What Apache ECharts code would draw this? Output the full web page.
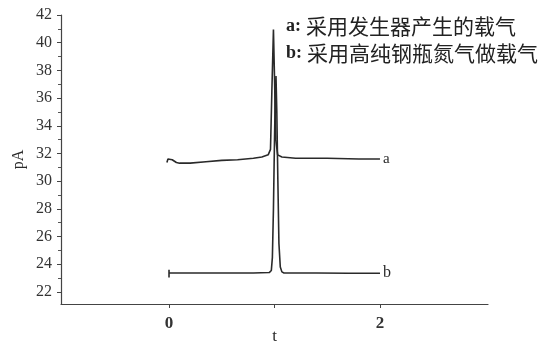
<!DOCTYPE html>
<html>
<head>
<meta charset="utf-8">
<script src="https://cdn.jsdelivr.net/npm/echarts@6/dist/echarts.min.js"></script>
<style>html,body{margin:0;padding:0;background:#fff}#c{width:549px;height:345px}</style>
</head>
<body>
<div id="c"></div>
<script>
// Trace a: carrier gas from generator
const tA = [-0.02, -0.01, 0.003, 0.03, 0.07, 0.1, 0.2, 0.35, 0.5, 0.65, 0.8, 0.88, 0.94, 0.962, 0.975, 0.99, 1.0, 1.012, 1.03, 1.07, 1.2, 1.5, 1.8, 2.0];
const vA = [31.35, 31.6, 31.62, 31.55, 31.35, 31.3, 31.3, 31.4, 31.5, 31.55, 31.65, 31.75, 31.9, 32.3, 36.5, 40.95, 37.5, 33.0, 31.9, 31.75, 31.65, 31.65, 31.6, 31.6];
// Trace b: high-purity cylinder nitrogen carrier gas
const tB = [0, 0, 0, 0.2, 0.5, 0.8, 0.95, 0.97, 0.98, 0.99, 1.0, 1.008, 1.014, 1.022, 1.032, 1.042, 1.055, 1.07, 1.09, 1.4, 1.7, 2.0];
const vB = [23.05, 23.6, 23.37, 23.37, 23.37, 23.37, 23.4, 23.55, 24.5, 28.0, 33.0, 36.5, 37.6, 35.0, 30.0, 25.5, 23.8, 23.45, 23.37, 23.37, 23.35, 23.35];
const yMajor = [22, 24, 26, 28, 30, 32, 34, 36, 38, 40, 42];
const yMinor = [23, 25, 27, 29, 31, 33, 35, 37, 39, 41];
const xTicks = [0, 1, 2];
const xLabels = [0, 2];
const legendKeys = ['a:', 'b:'];
const legendTexts = ['采用发生器产生的载气', '采用高纯钢瓶氮气做载气'];

const serif = 'Liberation Serif';
const ink = '#2a2a2a';
const chart = echarts.init(document.getElementById('c'), null, {renderer: 'canvas'});
const pairs = (xs, ys) => xs.map((x, i) => [x, ys[i]]);
chart.setOption({
  animation: false,
  backgroundColor: '#fff',
  title: {
    text: legendKeys.map((k, i) => '{k|' + k + '} {c|' + legendTexts[i] + '}').join('\n'),
    left: 281, top: 8,
    textStyle: {
      lineHeight: 27,
      fontWeight: 'normal',
      rich: {
        k: {fontFamily: serif, fontSize: 18, fontWeight: 'bold', color: '#222', lineHeight: 27},
        c: {fontFamily: 'Noto Sans CJK SC', fontSize: 21, fontWeight: 'normal', color: '#222', lineHeight: 27}
      }
    }
  },
  grid: {left: 61, right: 61, top: 15, bottom: 41, containLabel: false, outerBoundsMode: 'none'},
  xAxis: {
    type: 'value', min: -1.024, max: 3.024,
    name: 't', nameLocation: 'middle', nameGap: 24, nameMoveOverlap: false,
    nameTextStyle: {fontFamily: serif, fontSize: 17, color: ink},
    axisLine: {show: true, onZero: false, lineStyle: {color: '#444', width: 1.2}},
    axisTick: {show: true, customValues: xTicks, length: 4, inside: false, lineStyle: {color: '#444'}},
    axisLabel: {customValues: xLabels, fontFamily: serif, fontSize: 17, fontWeight: 'bold', color: '#333', margin: 11},
    splitLine: {show: false}
  },
  yAxis: [{
    type: 'value', min: 21.13, max: 42,
    name: 'pA', nameLocation: 'middle', nameGap: 34, nameRotate: 90, nameMoveOverlap: false,
    nameTextStyle: {fontFamily: serif, fontSize: 16, color: ink},
    axisLine: {show: true, onZero: false, lineStyle: {color: '#444', width: 1.2}},
    axisTick: {show: true, customValues: yMajor, length: 4, lineStyle: {color: '#444'}},
    axisLabel: {customValues: yMajor, fontFamily: serif, fontSize: 16, color: '#333', margin: 9},
    splitLine: {show: false}
  }, {
    type: 'value', min: 21.13, max: 42, position: 'left',
    axisLine: {show: false, onZero: false},
    axisTick: {show: true, customValues: yMinor, length: 3, lineStyle: {color: '#555'}},
    axisLabel: {show: false},
    splitLine: {show: false}
  }],
  series: [{
    name: 'a', type: 'line', yAxisIndex: 0, data: pairs(tA, vA), showSymbol: false,
    lineStyle: {color: ink, width: 1.6},
    endLabel: {show: true, formatter: 'a', fontFamily: serif, fontSize: 15, color: ink, distance: 3}
  }, {
    name: 'b', type: 'line', yAxisIndex: 0, data: pairs(tB, vB), showSymbol: false,
    lineStyle: {color: ink, width: 1.6},
    endLabel: {show: true, formatter: 'b', fontFamily: serif, fontSize: 16, color: ink, distance: 3}
  }]
});
</script>
</body>
</html>
